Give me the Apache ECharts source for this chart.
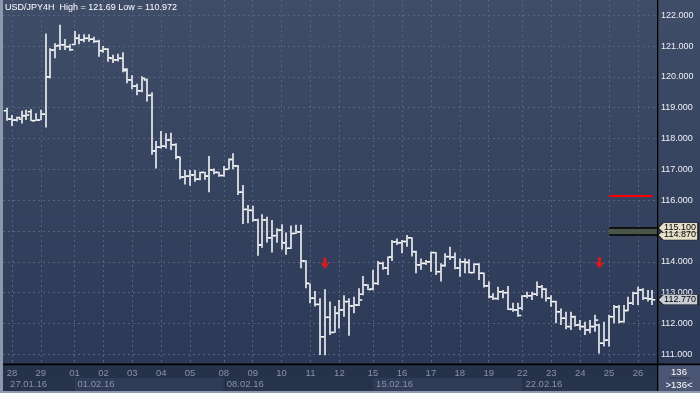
<!DOCTYPE html>
<html><head><meta charset="utf-8">
<script src="https://cdn.jsdelivr.net/npm/echarts@6/dist/echarts.min.js"></script>
<style>html,body{margin:0;padding:0;background:#2f3b57;}#c{width:700px;height:393px;}</style>
</head><body><div id="c"></div>
<script>
// ---- data ----
const titleText = 'USD/JPY4H  High = 121.69 Low = 110.972';
const dayLabels = ['27','28','29','01','02','03','04','05','08','09','10','11','12','15','16','17','18','19','22','23','24','25','26'];
const barsPerDay = [1,6,7,6,6,6,6,7,6,6,6,6,7,6,6,6,6,7,6,6,6,6,4];
const weekLabels = ['27.01.16','01.02.16','08.02.16','15.02.16','22.02.16'];
const weekFirstDay = [0,3,8,13,18];
const priceTicks = [111,112,113,114,115,116,117,118,119,120,121,122];

const open = [118.90,118.63,118.60,118.63,118.74,118.87,118.58,118.60,118.79,120.00,
120.87,121.02,121.04,120.98,121.05,121.25,121.20,121.25,121.22,121.15,
120.85,120.90,120.60,120.55,120.60,120.25,119.90,119.70,119.55,119.90,
119.40,117.60,117.72,117.75,117.95,117.80,117.40,116.75,116.78,116.82,
116.68,116.90,116.78,116.98,116.90,116.80,117.00,117.32,117.11,116.26,
115.70,115.67,115.36,114.55,115.36,114.78,114.85,115.03,114.62,114.44,
114.92,114.97,114.03,113.30,112.82,112.62,111.57,112.20,111.71,112.33,
112.44,112.71,112.57,112.60,112.95,113.25,113.12,113.30,113.95,113.80,
114.15,114.65,114.62,114.66,114.78,114.33,113.90,113.95,114.00,114.30,
113.68,113.88,114.17,114.15,113.80,114.00,113.98,113.65,113.92,113.63,
113.22,112.87,112.81,113.03,113.00,112.46,112.44,112.50,112.89,112.90,
112.95,113.19,113.11,112.82,112.71,112.38,112.17,111.90,112.22,111.95,
111.90,111.79,111.90,111.95,111.36,111.46,112.22,112.54,112.06,112.42,
112.66,112.98,113.09,112.82,112.80];
const high = [119.00,118.76,118.71,118.90,118.93,118.95,118.82,118.93,121.41,120.93,
121.09,121.69,121.23,121.06,121.49,121.38,121.38,121.38,121.30,121.20,
121.00,120.93,120.72,120.75,120.80,120.28,120.05,119.78,120.02,119.95,
119.50,117.92,118.24,118.17,118.19,117.85,117.42,116.98,116.98,116.98,
116.92,116.92,117.43,117.03,116.92,117.11,117.35,117.52,117.14,116.49,
115.84,115.82,115.40,115.54,115.46,115.36,115.09,115.22,114.95,115.18,
115.20,115.20,114.05,113.30,113.05,112.82,113.11,112.71,112.57,112.76,
112.92,112.82,112.87,113.14,113.54,113.27,113.74,114.03,114.00,114.17,
114.71,114.76,114.71,114.87,114.80,114.36,114.11,114.06,114.33,114.32,
113.95,114.28,114.49,114.30,114.11,114.11,114.08,113.95,113.95,113.65,
113.36,112.98,113.19,113.09,113.22,112.67,112.67,112.92,113.03,113.03,
113.36,113.25,113.14,112.92,112.74,112.49,112.38,112.38,112.25,112.11,
112.06,112.11,112.28,111.98,112.06,112.28,112.60,112.60,112.60,112.87,
113.03,113.19,113.14,113.09,113.09];
const low = [118.58,118.41,118.55,118.49,118.60,118.57,118.57,118.60,118.36,119.95,
120.60,120.87,120.87,120.84,121.03,121.06,121.12,121.14,121.10,120.65,
120.78,120.49,120.45,120.50,120.15,119.79,119.60,119.40,119.50,119.20,
117.47,117.03,117.68,117.68,117.63,117.33,116.68,116.51,116.47,116.60,
116.65,116.66,116.26,116.84,116.76,116.76,117.00,117.00,116.17,115.23,
115.25,115.30,114.20,114.46,114.63,114.30,114.62,114.40,114.23,114.42,
114.90,113.79,113.14,112.66,112.55,110.98,110.972,111.63,111.70,111.84,
112.22,111.60,112.33,112.57,112.92,113.09,113.08,113.25,113.74,113.57,
114.03,114.55,114.28,114.49,114.17,113.63,113.74,113.90,113.68,113.57,
113.36,113.84,114.06,113.76,113.52,113.63,113.63,113.63,113.41,113.17,
112.82,112.76,112.76,112.82,112.44,112.38,112.22,112.44,112.82,112.76,
112.89,112.82,112.71,112.54,112.01,111.95,111.81,111.79,111.90,111.79,
111.63,111.68,111.73,111.03,111.25,111.25,112.01,112.01,112.03,112.40,
112.60,112.60,112.76,112.71,112.60];
const close = [118.63,118.60,118.68,118.74,118.76,118.58,118.60,118.79,120.00,120.87,
121.00,121.04,120.98,120.88,121.25,121.20,121.25,121.22,121.15,120.85,
120.90,120.62,120.55,120.60,120.20,119.90,119.70,119.55,119.95,119.40,
117.60,117.72,117.75,117.95,117.80,117.40,116.75,116.78,116.82,116.68,
116.90,116.78,116.98,116.90,116.80,117.00,117.32,117.11,116.26,115.70,
115.67,115.36,114.55,115.36,114.78,114.85,115.03,114.62,114.44,114.92,
114.97,114.03,113.30,112.82,112.62,111.57,112.20,111.71,112.33,112.44,
112.71,112.57,112.60,112.76,113.25,113.10,113.30,113.95,113.80,114.15,
114.65,114.62,114.66,114.78,114.33,113.90,113.95,114.00,114.30,113.68,
113.88,114.17,114.15,113.80,114.00,113.98,113.65,113.92,113.63,113.22,
112.87,112.81,113.03,113.00,112.46,112.44,112.26,112.89,112.90,112.95,
113.19,113.11,112.82,112.71,112.38,112.17,111.90,112.22,111.95,111.90,
111.79,111.90,112.11,111.36,111.46,112.22,112.54,112.06,112.42,112.66,
112.98,113.09,112.82,112.80,112.77];

const signalBars = [66, 123];
const signalPrices = [113.95, 113.97];
const redLevel = 116.14;
const bandTop = 115.10;
const bandBottom = 114.87;
const levelFromBar = 125;
const redToBar = 134;
const lastPrice = 112.77;
const barCountText = '136';
const barCountSub = '>136<';

// ---- derived structure ----
const dayStart = [];
{ let s = 0; for (let i = 0; i < barsPerDay.length; i++) { dayStart.push(s); s += barsPerDay[i]; } }
const dayLabelAt = {};
for (let i = 1; i < dayLabels.length; i++) dayLabelAt[dayStart[i]] = dayLabels[i];
const weekStart = weekFirstDay.map(d => dayStart[d]);
const weekLabelAt = {};
weekStart.forEach((b, i) => weekLabelAt[b] = weekLabels[i]);
const ohlc = open.map((o, i) => [i, o, high[i], low[i], close[i]]);

const X_MIN = -0.85, X_MAX = 135.16;
const Y_MIN = 110.686, Y_MAX = 122.493;
const gridColor = '#56627e';

const chart = echarts.init(document.getElementById('c'), null, {renderer: 'canvas'});
const font = 'Liberation Sans, Arial, sans-serif';

chart.setOption({
  animation: false,
  title: {
    text: titleText, left: 5, top: 3, padding: 0,
    textStyle: {color: '#ffffff', fontSize: 9, fontWeight: 'normal', fontFamily: font}
  },
  grid: [
    {left: 3, right: 42, top: 0, bottom: 29},
    {left: 3, right: 42, top: 378, height: 13}
  ],
  xAxis: [
    {
      type: 'value', gridIndex: 0, min: X_MIN, max: X_MAX, position: 'bottom',
      axisLine: {show: false},
      axisTick: {show: false, customValues: dayStart.slice(1)},
      splitLine: {show: true, lineStyle: {color: gridColor, type: [2, 3], width: 1}},
      axisLabel: {
        customValues: dayStart.slice(1), margin: 4, color: '#8893a9', fontSize: 9.5, fontFamily: font,
        formatter: v => dayLabelAt[v] || ''
      }
    },
    {
      type: 'value', gridIndex: 1, min: X_MIN, max: X_MAX, position: 'top',
      axisLine: {show: false},
      axisTick: {show: false, customValues: [X_MIN].concat(weekStart.slice(1), [X_MAX])},
      splitLine: {show: false},
      splitArea: {show: true, areaStyle: {color: ['#27324b', '#2f3b57']}},
      axisLabel: {
        inside: true, customValues: weekStart, margin: 1, align: 'left', padding: [0, 0, 0, 3],
        color: '#8893a9', fontSize: 9.5, fontFamily: font,
        formatter: v => weekLabelAt[v] || ''
      }
    }
  ],
  yAxis: [
    {
      type: 'value', gridIndex: 0, position: 'right', min: Y_MIN, max: Y_MAX,
      axisLine: {show: false},
      axisTick: {show: false, customValues: priceTicks},
      splitLine: {show: true, lineStyle: {color: gridColor, type: [2, 3], width: 1}},
      axisLabel: {
        customValues: priceTicks, margin: 3, color: '#eef0f4', fontSize: 9, fontFamily: font,
        formatter: v => v.toFixed(3)
      }
    },
    {type: 'value', gridIndex: 1, show: false, min: 0, max: 1}
  ],
  graphic: [
    {type: 'rect', z: -100, shape: {x: 0, y: 0, width: 700, height: 393},
     style: {fill: new echarts.graphic.LinearGradient(0, 0, 0, 1, [{offset: 0, color: '#404d69'}, {offset: 1, color: '#2b3855'}])}},
    {type: 'rect', z: -90, shape: {x: 3, y: 365, width: 655, height: 28}, style: {fill: '#26314a'}},
    {type: 'rect', z: -90, shape: {x: 658, y: 365, width: 42, height: 28}, style: {fill: '#4a5673'}},
    {type: 'rect', z: 50, shape: {x: 0, y: 0, width: 3, height: 393}, style: {fill: '#8e98ab'}},
    {type: 'rect', z: 50, shape: {x: 0, y: 391, width: 700, height: 2}, style: {fill: '#8e98ab'}},
    {type: 'rect', z: 50, shape: {x: 657, y: 0, width: 1.3, height: 391}, style: {fill: '#000000'}},
    {type: 'rect', z: 50, shape: {x: 3, y: 363.6, width: 697, height: 1.6}, style: {fill: '#000000'}},
    {type: 'rect', z: 50, shape: {x: 669, y: 377.5, width: 21, height: 1}, style: {fill: '#2a3349'}},
    {type: 'text', z: 50, style: {x: 679, y: 372, text: barCountText, fill: '#ffffff', fontSize: 9.5, fontFamily: font, align: 'center', verticalAlign: 'middle'}},
    {type: 'text', z: 50, style: {x: 679, y: 385, text: barCountSub, fill: '#ffffff', fontSize: 9.5, fontFamily: font, align: 'center', verticalAlign: 'middle'}}
  ],
  series: [
    {
      type: 'custom', xAxisIndex: 0, yAxisIndex: 0, data: ohlc,
      encode: {x: 0, y: [1, 2, 3, 4]},
      renderItem: function (params, api) {
        const x = api.value(0);
        const pO = api.coord([x, api.value(1)]);
        const pH = api.coord([x, api.value(2)]);
        const pL = api.coord([x, api.value(3)]);
        const pC = api.coord([x, api.value(4)]);
        const cx = Math.round(pH[0]);
        const top = pH[1];
        const h = Math.max(1.5, pL[1] - top);
        const st = {fill: '#ffffff'};
        return {type: 'group', children: [
          {type: 'rect', shape: {x: cx - 0.75, y: top, width: 1.5, height: h}, style: st},
          {type: 'rect', shape: {x: cx - 3.25, y: pO[1] - 0.75, width: 2.5, height: 1.5}, style: st},
          {type: 'rect', shape: {x: cx + 0.75, y: pC[1] - 0.75, width: 2.5, height: 1.5}, style: st}
        ]};
      },
      z: 5
    },
    {
      type: 'scatter', xAxisIndex: 0, yAxisIndex: 0,
      data: signalBars.map((b, i) => [b, signalPrices[i]]),
      symbol: 'path://M2.6,0 L5.4,0 L5.4,5.5 L8,5.5 L4,11 L0,5.5 L2.6,5.5 Z',
      symbolSize: [9, 11],
      itemStyle: {color: '#ff1010'},
      z: 6,
      markArea: {
        silent: true,
        itemStyle: {color: '#4b5547'},
        data: [[{coord: [levelFromBar, bandTop]}, {coord: [X_MAX, bandBottom]}]]
      },
      markLine: {
        silent: true, symbol: ['none', 'none'], label: {show: false},
        data: [
          [{coord: [levelFromBar, redLevel], lineStyle: {color: '#ff0000', width: 2, type: 'solid'}}, {coord: [redToBar, redLevel]}],
          [{coord: [levelFromBar, bandTop], lineStyle: {color: '#000000', width: 1.5, type: 'solid'}}, {coord: [X_MAX, bandTop]}],
          [{coord: [levelFromBar, bandBottom], lineStyle: {color: '#000000', width: 1.5, type: 'solid'}}, {coord: [X_MAX, bandBottom]}]
        ]
      },
      markPoint: {
        silent: true,
        symbol: 'path://M0,5 L5,0 L40,0 L40,10 L5,10 Z',
        symbolSize: [40, 10],
        symbolKeepAspect: false,
        symbolOffset: [20, 0],
        label: {show: true, position: 'inside', color: '#000000', fontSize: 9, fontFamily: font, offset: [2, 0],
                formatter: p => p.value.toFixed(3)},
        data: [
          {coord: [X_MAX, bandBottom], value: bandBottom, itemStyle: {color: '#e4e0c9', borderColor: '#222', borderWidth: 0.8}},
          {coord: [X_MAX, bandTop], value: bandTop, itemStyle: {color: '#e4e0c9', borderColor: '#222', borderWidth: 0.8}},
          {coord: [X_MAX, lastPrice], value: lastPrice, itemStyle: {color: '#c7ccd5', borderColor: '#222', borderWidth: 0.8}}
        ]
      }
    }
  ]
});
</script></body></html>
